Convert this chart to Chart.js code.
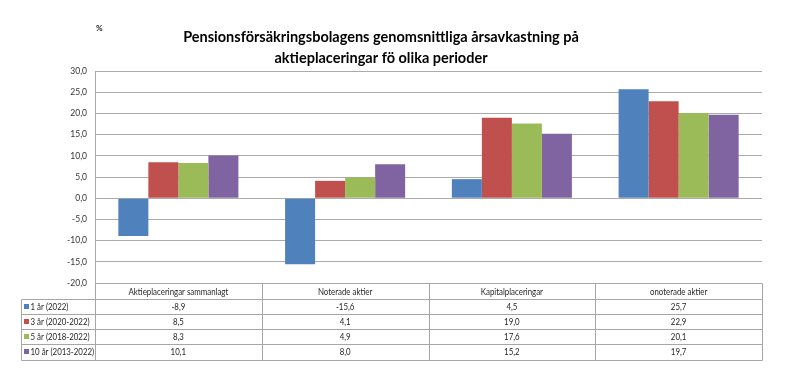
<!DOCTYPE html>
<html><head><meta charset="utf-8">
<script src="https://cdn.jsdelivr.net/npm/chart.js@4/dist/chart.umd.min.js"></script>
<style>html,body{margin:0;padding:0;background:#fff;}</style>
</head><body>
<canvas id="c" width="790" height="383"></canvas>
<script>
const categories = ['Aktieplaceringar sammanlagt', 'Noterade aktier', 'Kapitalplaceringar', 'onoterade aktier'];
const seriesNames = ['1 år (2022)', '3 år (2020-2022)', '5 år (2018-2022)', '10 år (2013-2022)'];
const oneYear = [-8.9, -15.6, 4.5, 25.7];
const threeYear = [8.5, 4.1, 19.0, 22.9];
const fiveYear = [8.3, 4.9, 17.6, 20.1];
const tenYear = [10.1, 8.0, 15.2, 19.7];
const yTicks = [-20, -15, -10, -5, 0, 5, 10, 15, 20, 25, 30];
const titleLines = ['Pensionsförsäkringsbolagens genomsnittliga årsavkastning på', 'aktieplaceringar fö olika perioder'];
const unitLabel = '%';

const colors = ['#4F81BD', '#C0504D', '#9BBB59', '#8064A2'];
const seriesValues = [oneYear, threeYear, fiveYear, tenYear];
const FONT = 'Lato, "Liberation Sans", Arial, sans-serif';
const fmt = v => v.toFixed(1).replace('.', ',');

function condensedText(ctx, text, x, y, align, sx) {
  ctx.save();
  ctx.translate(x, y);
  ctx.scale(sx, 1);
  ctx.textAlign = align;
  ctx.fillText(text, 0, 0);
  ctx.restore();
}

const tablePlugin = {
  id: 'dataTable',
  afterDraw(chart) {
    const ctx = chart.ctx, ca = chart.chartArea, xs = chart.scales.x;
    const top = Math.round(ca.bottom) + 0.5;
    const rowH = 15.2;
    const legL = 21.5;
    const n = categories.length;
    const colW = (ca.right - ca.left) / n;
    const bounds = [];
    for (let i = 0; i < n; i++) bounds.push(xs.getPixelForValue(i) - colW / 2);
    bounds.push(xs.getPixelForValue(n - 1) + colW / 2);
    const bottom = top + rowH * (seriesNames.length + 1);
    ctx.save();
    ctx.strokeStyle = '#a6a6a6';
    ctx.lineWidth = 1;
    ctx.beginPath();
    ctx.moveTo(Math.round(ca.left) + 0.5, top); ctx.lineTo(Math.round(ca.right) + 0.5, top);
    for (let r = 1; r <= seriesNames.length + 1; r++) {
      const y = Math.round(top + rowH * r) + 0.5;
      ctx.moveTo(legL, y); ctx.lineTo(Math.round(ca.right) + 0.5, y);
    }
    ctx.moveTo(legL, Math.round(top + rowH) + 0.5); ctx.lineTo(legL, Math.round(bottom) + 0.5);
    bounds.forEach(b => {
      const x = Math.round(b) + 0.5;
      ctx.moveTo(x, top); ctx.lineTo(x, Math.round(bottom) + 0.5);
    });
    ctx.stroke();
    const SX = 0.83;
    ctx.fillStyle = '#262626';
    ctx.font = '9.5px ' + FONT;
    ctx.textBaseline = 'middle';
    categories.forEach((c, i) => condensedText(ctx, c, xs.getPixelForValue(i), top + rowH / 2 + 0.5, 'center', SX));
    seriesNames.forEach((s, r) => {
      const yc = top + rowH * (r + 1) + rowH / 2 + 0.5;
      ctx.fillStyle = colors[r];
      ctx.fillRect(24, Math.round(yc) - 3, 5, 5);
      ctx.fillStyle = '#262626';
      condensedText(ctx, s, 30.5, yc, 'left', SX);
      seriesValues[r].forEach((v, i) => condensedText(ctx, fmt(v), xs.getPixelForValue(i), yc, 'center', SX));
    });
    ctx.font = 'bold 8px ' + FONT;
    ctx.textAlign = 'left';
    ctx.fillStyle = '#222';
    ctx.fillText(unitLabel, 96, 28);
    ctx.restore();
  }
};

new Chart(document.getElementById('c'), {
  type: 'bar',
  data: {
    labels: categories,
    datasets: seriesNames.map((name, i) => ({
      label: name,
      data: seriesValues[i],
      backgroundColor: colors[i],
      borderWidth: 0
    }))
  },
  options: {
    responsive: false,
    devicePixelRatio: 1,
    animation: false,
    layout: { padding: { left: 0, right: 28, top: 0, bottom: 100 } },
    datasets: { bar: { categoryPercentage: 0.72, barPercentage: 1 } },
    plugins: {
      legend: { display: false },
      tooltip: { enabled: false },
      title: {
        display: true,
        text: titleLines,
        color: '#000',
        font: { family: FONT, size: 14.5, weight: 'bold', lineHeight: 1.45 },
        padding: { top: 27, bottom: 2 }
      }
    },
    scales: {
      x: { display: false },
      y: {
        min: -20, max: 30,
        afterBuildTicks: s => { s.ticks = yTicks.map(v => ({ value: v })); },
        afterFit: s => { s.width = 95; },
        ticks: { callback: v => fmt(v), color: '#333', font: { family: FONT, size: 8.5 }, padding: 8 },
        grid: { color: '#ababab', lineWidth: 1, drawTicks: false },
        border: { display: true, color: '#ababab' }
      }
    }
  },
  plugins: [tablePlugin]
});
</script>
</body></html>
